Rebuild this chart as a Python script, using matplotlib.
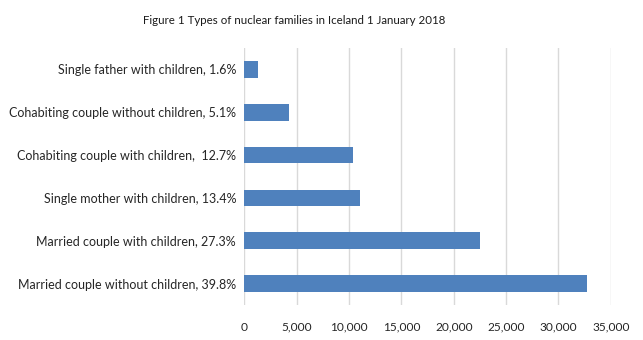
import matplotlib.pyplot as plt
from matplotlib.ticker import FuncFormatter

plt.rcParams["font.family"] = ["Lato", "DejaVu Sans"]

categories = [
    "Married couple without children, 39.8%",
    "Married couple with children, 27.3%",
    "Single mother with children, 13.4%",
    "Cohabiting couple with children,  12.7%",
    "Cohabiting couple without children, 5.1%",
    "Single father with children, 1.6%",
]
families = [32760, 22530, 11060, 10390, 4270, 1310]
xticks = [0, 5000, 10000, 15000, 20000, 25000, 30000, 35000]

fig = plt.figure(figsize=(6.43, 3.4), dpi=100)
ax = fig.add_axes([0.380, 0.103, 0.570, 0.756])

ax.barh(range(len(categories)), families, height=0.39, color="#4F81BD", zorder=3)

ax.set_yticks(range(len(categories)))
ax.set_yticklabels(categories)
ax.set_ylim(-0.5, len(categories) - 0.5)

ax.set_xlim(0, 35000)
ax.set_xticks(xticks)
ax.xaxis.set_major_formatter(FuncFormatter(lambda v, _: f"{int(v):,}"))
ax.grid(axis="x", color="#D9D9D9", linewidth=1, zorder=0)

for side in ["top", "right", "bottom", "left"]:
    ax.spines[side].set_visible(False)
ax.tick_params(axis="both", length=0, colors="#262626")
ax.tick_params(axis="x", pad=12, labelsize=8.6)
ax.tick_params(axis="y", pad=6, labelsize=9)

fig.text(0.457, 0.94, "Figure 1 Types of nuclear families in Iceland 1 January 2018",
         ha="center", va="center", fontsize=8.3, color="#1a1a1a")

fig.savefig("out.png", dpi=100)
